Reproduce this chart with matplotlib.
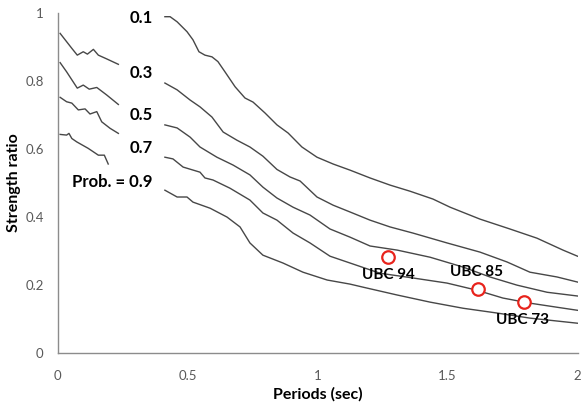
import matplotlib
matplotlib.use("Agg")
import matplotlib.pyplot as plt

plt.rcParams['font.family'] = ['Lato', 'DejaVu Sans']

# short-period segments (T < 0.25 s)
short_x_01 = [0.010, 0.055, 0.076, 0.099, 0.115, 0.138, 0.157, 0.189, 0.234]
short_y_01 = [0.940, 0.896, 0.876, 0.886, 0.879, 0.893, 0.876, 0.865, 0.849]
short_x_03 = [0.010, 0.035, 0.076, 0.099, 0.122, 0.151, 0.189, 0.234]
short_y_03 = [0.854, 0.827, 0.779, 0.788, 0.776, 0.781, 0.759, 0.731]
short_x_05 = [0.010, 0.035, 0.055, 0.080, 0.106, 0.125, 0.151, 0.170, 0.202, 0.234]
short_y_05 = [0.752, 0.739, 0.735, 0.715, 0.718, 0.703, 0.710, 0.680, 0.661, 0.646]
short_x_07 = [0.010, 0.035, 0.044, 0.055, 0.074, 0.118, 0.157, 0.180, 0.195]
short_y_07 = [0.643, 0.641, 0.646, 0.631, 0.621, 0.602, 0.582, 0.582, 0.556]

# main curves (T >= 0.41 s)
x_01 = [0.413, 0.433, 0.460, 0.498, 0.521, 0.544, 0.567, 0.594, 0.617, 0.644,
        0.683, 0.721, 0.752, 0.798, 0.844, 0.887, 0.940, 0.998, 1.060, 1.125,
        1.202, 1.279, 1.356, 1.444, 1.510, 1.625, 1.740, 1.844, 1.944, 2.0]
y_01 = [0.989, 0.989, 0.974, 0.945, 0.921, 0.886, 0.876, 0.871, 0.857, 0.827,
        0.783, 0.750, 0.738, 0.706, 0.671, 0.647, 0.606, 0.576, 0.556, 0.538,
        0.515, 0.494, 0.476, 0.453, 0.429, 0.394, 0.365, 0.338, 0.303, 0.285]

x_03 = [0.413, 0.460, 0.510, 0.548, 0.594, 0.637, 0.690, 0.740, 0.790, 0.844,
        0.894, 0.933, 0.998, 1.060, 1.125, 1.202, 1.279, 1.367, 1.498, 1.625,
        1.729, 1.817, 1.921, 2.0]
y_03 = [0.794, 0.774, 0.744, 0.724, 0.694, 0.650, 0.626, 0.606, 0.579, 0.540,
        0.518, 0.506, 0.459, 0.435, 0.415, 0.391, 0.371, 0.353, 0.324, 0.297,
        0.268, 0.238, 0.224, 0.209]

x_05 = [0.413, 0.460, 0.510, 0.548, 0.613, 0.675, 0.740, 0.790, 0.844, 0.906,
        0.971, 1.048, 1.125, 1.202, 1.306, 1.433, 1.560, 1.663, 1.767, 1.883, 2.0]
y_05 = [0.671, 0.662, 0.635, 0.606, 0.576, 0.553, 0.524, 0.488, 0.456, 0.429,
        0.406, 0.365, 0.341, 0.315, 0.303, 0.282, 0.253, 0.224, 0.200, 0.179, 0.168]

x_07 = [0.413, 0.444, 0.483, 0.548, 0.567, 0.598, 0.663, 0.740, 0.790, 0.844,
        0.906, 0.971, 1.048, 1.125, 1.240, 1.367, 1.498, 1.613, 1.713, 1.817,
        1.921, 2.0]
y_07 = [0.576, 0.571, 0.547, 0.532, 0.515, 0.509, 0.485, 0.450, 0.412, 0.391,
        0.353, 0.324, 0.285, 0.265, 0.235, 0.221, 0.206, 0.185, 0.162, 0.147,
        0.135, 0.126]

x_09 = [0.413, 0.460, 0.498, 0.521, 0.587, 0.652, 0.702, 0.740, 0.790, 0.867,
        0.944, 1.037, 1.125, 1.175, 1.306, 1.433, 1.560, 1.690, 1.817, 2.0]
y_09 = [0.479, 0.459, 0.459, 0.444, 0.426, 0.400, 0.371, 0.324, 0.288, 0.265,
        0.238, 0.215, 0.203, 0.194, 0.171, 0.150, 0.132, 0.118, 0.103, 0.088]

# code-based design levels
ubc_names = ["UBC 94", "UBC 85", "UBC 73"]
ubc_T = [1.271, 1.616, 1.795]
ubc_ratio = [0.282, 0.190, 0.149]

prob_labels = ["0.1", "0.3", "0.5", "0.7", "Prob. = 0.9"]
prob_label_y = [0.985, 0.824, 0.700, 0.603, 0.503]

fig = plt.figure(figsize=(5.81, 4.05), dpi=100)
ax = fig.add_axes([0.099, 0.128, 0.895, 0.840])

line_kw = dict(color='#474747', lw=1.0)
for xs, ys in [(short_x_01, short_y_01), (short_x_03, short_y_03),
               (short_x_05, short_y_05), (short_x_07, short_y_07),
               (x_01, y_01), (x_03, y_03), (x_05, y_05), (x_07, y_07), (x_09, y_09)]:
    ax.plot(xs, ys, **line_kw)

ax.plot(ubc_T, ubc_ratio, 'o', ms=9, mfc='white', mec='#e8231c', mew=1.6, ls='none')

ubc_text_pos = [(1.271, 0.229), (1.613, 0.238), (1.790, 0.097)]
for name, (tx, ty) in zip(ubc_names, ubc_text_pos):
    ax.text(tx, ty, name, ha='center', va='center', fontsize=11, fontweight='bold')

for lab, ly in zip(prob_labels, prob_label_y):
    ax.text(0.367, ly, lab, ha='right', va='center', fontsize=12, fontweight='bold')

ax.set_xlim(0, 2)
ax.set_ylim(0, 1)
ax.set_xticks([0, 0.5, 1, 1.5, 2])
ax.set_xticklabels(["0", "0.5", "1", "1.5", "2"])
ax.set_yticks([0, 0.2, 0.4, 0.6, 0.8, 1])
ax.set_yticklabels(["0", "0.2", "0.4", "0.6", "0.8", "1"])
ax.tick_params(length=0, labelsize=9.5, labelcolor='#595959')
ax.tick_params(axis='x', pad=12)
ax.tick_params(axis='y', pad=10)

for side in ['top', 'right']:
    ax.spines[side].set_visible(False)
for side in ['left', 'bottom']:
    ax.spines[side].set_color('#8c8c8c')
    ax.spines[side].set_linewidth(1.0)

ax.set_xlabel("Periods (sec)", fontsize=11.5, fontweight='bold', labelpad=4)
ax.set_ylabel("Strength ratio", fontsize=11.5, fontweight='bold', labelpad=3)

fig.savefig("out.png", dpi=100)
